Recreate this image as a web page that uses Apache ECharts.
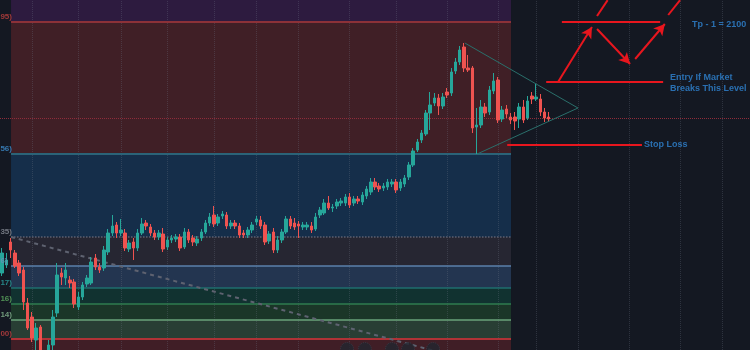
<!DOCTYPE html>
<html>
<head>
<meta charset="utf-8">
<title>Gold setup</title>
<script src="https://cdn.jsdelivr.net/npm/echarts@6/dist/echarts.min.js"></script>
<style>
  html, body { margin: 0; padding: 0; background: #141822; }
  #chart { width: 750px; height: 350px; }
</style>
</head>
<body>
<div id="chart"></div>
<script>
// candles, oldest first
const opens = [
  1849, 1857, 1880, 1869, 1859, 1852, 1819, 1805, 1782, 1795,
  1766, 1764, 1777, 1809, 1849, 1844, 1842, 1840, 1815, 1825,
  1838, 1839, 1864, 1855, 1854, 1870, 1889, 1897, 1889, 1889,
  1873, 1880, 1874, 1889, 1899, 1895, 1889, 1885, 1888, 1875,
  1882, 1883, 1885, 1875, 1890, 1884, 1879, 1884, 1890, 1899,
  1907, 1899, 1906, 1907, 1896, 1899, 1896, 1889, 1887, 1892,
  1900, 1902, 1897, 1881, 1890, 1872, 1882, 1890, 1903, 1899,
  1898, 1895, 1895, 1896, 1893, 1907, 1909, 1919, 1914, 1916,
  1919, 1919, 1925, 1919, 1923, 1920, 1926, 1930, 1940, 1936,
  1934, 1935, 1938, 1940, 1934, 1938, 1945, 1957, 1972, 1982,
  1988, 2009, 2019, 2024, 2016, 2030, 2029, 2051, 2060, 2075,
  2054, 2054, 1995, 1997, 2015, 2010, 2031, 2042, 2003, 2013,
  2005, 2005, 2003, 2015, 2004, 2026, 2023, 2023, 2010, 2005
]
const closes = [
  1869, 1862, 1872, 1856, 1849, 1820, 1794, 1784, 1794, 1766,
  1758, 1777, 1805, 1847, 1845, 1852, 1839, 1818, 1825, 1837,
  1844, 1860, 1855, 1852, 1872, 1889, 1896, 1889, 1892, 1874,
  1879, 1874, 1889, 1898, 1896, 1889, 1885, 1889, 1873, 1882,
  1884, 1885, 1874, 1890, 1882, 1880, 1883, 1890, 1899, 1905,
  1898, 1905, 1908, 1896, 1899, 1896, 1887, 1887, 1892, 1897,
  1903, 1896, 1880, 1888, 1872, 1882, 1890, 1903, 1896, 1895,
  1896, 1897, 1897, 1892, 1905, 1912, 1919, 1914, 1915, 1920,
  1921, 1925, 1917, 1923, 1921, 1927, 1933, 1940, 1935, 1933,
  1936, 1940, 1940, 1932, 1940, 1944, 1957, 1971, 1980, 1989,
  2009, 2017, 2024, 2016, 2025, 2027, 2050, 2060, 2072, 2054,
  2052, 1994, 1997, 2015, 2009, 2032, 2041, 2002, 2012, 2008,
  2002, 2001, 2015, 2002, 2021, 2023, 2025, 2010, 2004, 2003
]
const lows = [
  1846, 1854, 1864, 1854, 1846, 1812, 1792, 1780, 1772, 1760,
  1752, 1758, 1772, 1805, 1837, 1837, 1834, 1814, 1812, 1822,
  1835, 1837, 1852, 1849, 1851, 1867, 1886, 1884, 1886, 1871,
  1870, 1862, 1871, 1887, 1892, 1886, 1882, 1882, 1870, 1872,
  1879, 1880, 1871, 1873, 1879, 1876, 1876, 1881, 1888, 1896,
  1895, 1896, 1903, 1893, 1893, 1893, 1884, 1884, 1884, 1889,
  1897, 1893, 1877, 1878, 1869, 1869, 1879, 1888, 1893, 1892,
  1884, 1892, 1892, 1889, 1891, 1904, 1907, 1912, 1910, 1913,
  1916, 1916, 1914, 1916, 1918, 1917, 1923, 1927, 1932, 1930,
  1931, 1932, 1935, 1929, 1931, 1935, 1942, 1955, 1970, 1979,
  1986, 1992, 2016, 2007, 2013, 2024, 2026, 2048, 2057, 2050,
  2050, 1989, 1968, 1994, 2005, 2007, 2028, 1999, 2000, 2004,
  1998, 1992, 1994, 1999, 2002, 2018, 2021, 2006, 2000, 2000
]
const highs = [
  1874, 1869, 1884, 1872, 1862, 1855, 1824, 1810, 1799, 1797,
  1770, 1782, 1812, 1859, 1854, 1859, 1846, 1843, 1830, 1840,
  1847, 1865, 1868, 1859, 1876, 1893, 1907, 1900, 1903, 1893,
  1882, 1884, 1893, 1904, 1902, 1898, 1892, 1892, 1894, 1885,
  1887, 1888, 1888, 1894, 1893, 1887, 1886, 1893, 1902, 1909,
  1916, 1908, 1911, 1910, 1902, 1902, 1899, 1892, 1895, 1900,
  1906, 1906, 1900, 1891, 1894, 1886, 1893, 1906, 1906, 1904,
  1901, 1900, 1900, 1900, 1909, 1915, 1923, 1926, 1918, 1923,
  1924, 1928, 1929, 1926, 1926, 1930, 1936, 1944, 1944, 1939,
  1939, 1943, 1943, 1943, 1943, 1947, 1960, 1974, 1983, 1992,
  2012, 2030, 2029, 2028, 2029, 2034, 2054, 2064, 2076, 2079,
  2067, 2056, 2014, 2022, 2019, 2036, 2049, 2045, 2016, 2017,
  2009, 2010, 2019, 2022, 2026, 2030, 2038, 2028, 2014, 2010
]

// bar slots on screen (empty space right of the last candle included)
const slotCount = 177
const priceMin = 1772
const priceMax = 2122
const lastPrice = 2004

// fib retracement drawing
const fibLevels = [2100, 1968, 1885, 1856, 1834, 1818, 1802, 1783]
const fibLabels = ['95)', '56)', '35)', '6)', '17)', '16)', '14)', '00)']
const fibFrom = 2.1
const fibTo = 120.1

// time grid lines (bar index)
const gridBars = [7, 18, 28, 39, 50, 60, 70, 82, 93, 105, 117, 126, 136, 148, 160, 170]

// trade plan
const tpLevel = 2100
const entryLevel = 2040
const stopLevel = 1977
const trendLine = [[2.1, 1885], [110, 1762]]
const triangle = [[109.2, 2079], [135.9, 2014], [112.1, 1968]]
const pathArrows = [
  [[131.2, 2040], [139.2, 2095]],
  [[140.4, 2093], [148.2, 2058]],
  [[149.4, 2063], [156.4, 2098]]
]
const pathTails = [
  [[140.4, 2106], [142.9, 2121.9]],
  [[157.2, 2107], [160.0, 2121.9]]
]
const notes = [
  [162.8, 2097, 'Tp - 1 = 2100'],
  [157.6, 2039, 'Entry If Market\nBreaks This Level'],
  [151.5, 1977, 'Stop Loss']
]
const eventBars = [81.4, 85.6, 92, 95.8, 101.7]

// colours
const zoneColors = ['#2d1b3f', '#401f26', '#152e4a', '#262632', '#233550', '#113230', '#1b3628', '#283e34', '#401e26']
const fibLineColors = ['#8c3138', '#2b6378', '#5d6070', '#5b80ab', '#1f6e6e', '#2f7d4f', '#6aa37a', '#b03236']
const fibLabelColors = ['#c2413f', '#3d8fd1', '#8a8e99', '#6d8fb5', '#2aa0a0', '#5fae62', '#86b890', '#c24040']
const upColor = '#26a69a'
const downColor = '#ef5350'
const red = '#e8161e'
const noteColor = '#2f86d6'

const categories = Array.from({ length: slotCount }, (_, i) => String(i))
const candles = opens.map((o, i) => [o, closes[i], lows[i], highs[i]])

const zoneBounds = [priceMax, ...fibLevels, priceMin]
const zoneData = zoneColors.map((c, k) => [
  { coord: [fibFrom, zoneBounds[k]], itemStyle: { color: c } },
  { coord: [fibTo, zoneBounds[k + 1]] }
])

const fibLineData = fibLevels.map((lv, k) => [
  {
    coord: [fibFrom, lv],
    lineStyle: {
      color: fibLineColors[k],
      width: k === 0 || k === 1 || k === 7 ? 2 : 1.5,
      type: k === 2 ? 'dotted' : 'solid'
    }
  },
  { coord: [fibTo, lv] }
])

const gridData = gridBars.map(b => ({ xAxis: b }))

const priceLine = [
  { coord: [-0.5, lastPrice], lineStyle: { color: '#8e2c3a', type: 'dotted', width: 1 } },
  { coord: [slotCount - 0.5, lastPrice] }
]

const redLine = (a, b, arrow) => [
  { coord: a, symbol: 'none' },
  { coord: b, symbol: arrow ? 'arrow' : 'none' }
]

const planData = [
  redLine([132.1, tpLevel], [155.3, tpLevel], false),
  redLine([128.4, entryLevel], [156.0, entryLevel], false),
  redLine([119.2, stopLevel], [151.0, stopLevel], false),
  ...pathArrows.map(p => redLine(p[0], p[1], true)),
  ...pathTails.map(p => redLine(p[0], p[1], false))
]

const chart = echarts.init(document.getElementById('chart'))

chart.setOption({
  animation: false,
  backgroundColor: '#141822',
  grid: { left: 0, right: 0, top: 0, bottom: 0 },
  xAxis: [
    { type: 'category', data: categories, boundaryGap: true, show: false },
    { type: 'value', min: -0.5, max: slotCount - 0.5, show: false }
  ],
  yAxis: { type: 'value', min: priceMin, max: priceMax, show: false, splitLine: { show: false } },
  series: [
    {
      name: 'fib',
      type: 'line',
      xAxisIndex: 1,
      data: [],
      z: 1,
      markArea: { silent: true, z: 1, data: zoneData },
      markLine: {
        silent: true,
        z: 2,
        symbol: 'none',
        label: { show: false },
        lineStyle: { color: 'rgba(110,116,132,0.3)', type: 'dotted', width: 1 },
        data: [...gridData, ...fibLineData, priceLine]
      }
    },
    {
      name: 'trend',
      type: 'line',
      xAxisIndex: 1,
      data: trendLine,
      symbol: 'none',
      z: 2,
      lineStyle: { color: '#5e6270', width: 2, type: [4, 4] }
    },
    {
      name: 'events',
      type: 'scatter',
      xAxisIndex: 1,
      data: eventBars.map(b => [b, priceMin + 1]),
      symbolSize: 13,
      z: 2,
      itemStyle: { color: '#22262f', borderColor: '#3b404c', borderWidth: 1, borderType: 'dotted' }
    },
    {
      name: 'XAUUSD',
      type: 'candlestick',
      data: candles,
      barWidth: 3,
      z: 3,
      itemStyle: {
        color: upColor,
        color0: downColor,
        borderColor: upColor,
        borderColor0: downColor,
        borderWidth: 1
      }
    },
    {
      name: 'triangle',
      type: 'line',
      xAxisIndex: 1,
      data: triangle,
      symbol: 'none',
      z: 4,
      lineStyle: { color: '#2a6f6b', width: 1 }
    },
    {
      name: 'plan',
      type: 'line',
      xAxisIndex: 1,
      data: [],
      markLine: {
        silent: true,
        z: 5,
        symbolSize: [9, 11],
        label: { show: false },
        lineStyle: { color: red, width: 2, type: 'solid' },
        data: planData
      }
    },
    {
      name: 'notes',
      type: 'scatter',
      xAxisIndex: 1,
      data: notes,
      symbolSize: 0,
      z: 6,
      label: {
        show: true,
        position: 'right',
        distance: 0,
        formatter: p => p.value[2],
        color: noteColor,
        fontSize: 9,
        fontWeight: 'bold',
        lineHeight: 11,
        fontFamily: 'Liberation Sans, Arial, sans-serif'
      }
    },
    {
      name: 'fibLabels',
      type: 'scatter',
      xAxisIndex: 1,
      data: fibLevels.map((lv, k) => ({
        value: [-0.4, lv, fibLabels[k]],
        label: { color: fibLabelColors[k] }
      })),
      symbolSize: 0,
      z: 6,
      label: {
        show: true,
        position: 'right',
        distance: 0,
        offset: [0, -5],
        formatter: p => p.value[2],
        fontSize: 8,
        fontWeight: 'bold',
        fontFamily: 'Liberation Sans, Arial, sans-serif'
      }
    }
  ]
})
</script>
</body>
</html>
